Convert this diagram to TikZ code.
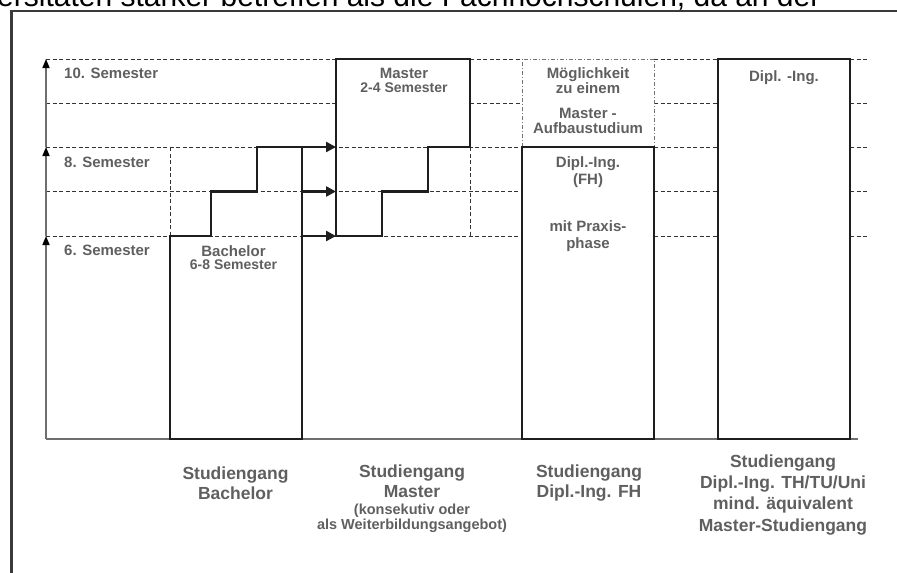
\documentclass[tikz,border=0pt]{standalone}
\usepackage{fontspec}
\setmainfont{Liberation Sans}
\usetikzlibrary{arrows.meta}
\definecolor{txt}{HTML}{5F5F5F}
\definecolor{ink}{HTML}{1E1E1E}
\definecolor{axisg}{HTML}{6E6E6E}
\definecolor{gridc}{HTML}{333333}
\definecolor{framec}{HTML}{3A3A3A}
\begin{document}
\begin{tikzpicture}[x=1pt,y=-1pt,
  box/.style={draw=ink, line width=2.4pt, line join=miter},
  gridline/.style={draw=gridc, line width=1pt, dash pattern=on 4pt off 2.5pt},
  dotbox/.style={draw=black!55, line width=1pt, dash pattern=on 4pt off 2pt on 1pt off 2pt},
  axisline/.style={draw=axisg, line width=1.5pt, -{Triangle[length=9pt,width=7pt,color=black]}},
  feed/.style={draw=ink, line width=2.4pt, -{Triangle[length=10pt,width=10pt]}},
  baseln/.style={draw=axisg, line width=2pt},
  framel/.style={draw=framec, line width=2.7pt},
  lbl/.style={text=txt, inner sep=0pt, align=center, font=\bfseries\fontsize{15}{15}\selectfont},
  sem/.style={lbl, anchor=west},
  big/.style={text=txt, inner sep=0pt, align=center, font=\bfseries\fontsize{17.5}{20}\selectfont}
]
\useasboundingbox (0,0) rectangle (897,573);

% clipped running text at the top
\begin{scope}
\clip (0,0) rectangle (897,573);
\node[anchor=base west, inner sep=0pt, text=black, font=\fontsize{30}{30}\selectfont] (head) at (-3,6.5) {ersitäten stärker betreffen als die Fachhochschulen, da an der};
\end{scope}

% frame
\draw[framel] (11.5,573) -- (11.5,11) -- (897,11);

% grid of semesters
\draw[gridline] (46,59) -- (336,59) (470,59) -- (522,59) (654,59) -- (718,59) (850,59) -- (868,59);
\draw[gridline] (46,103) -- (336,103) (470,103) -- (522,103) (654,103) -- (718,103) (850,103) -- (868,103);
\draw[gridline] (46,147) -- (522,147) (654,147) -- (718,147) (850,147) -- (868,147);
\draw[gridline] (46,191.5) -- (522,191.5) (654,191.5) -- (718,191.5) (850,191.5) -- (868,191.5);
\draw[gridline] (46,236) -- (522,236) (654,236) -- (718,236) (850,236) -- (868,236);
\draw[gridline] (170,147) -- (170,236) (470,147) -- (470,236);
\draw[dotbox] (522,147) -- (522,59) -- (654,59) -- (654,147);

% baseline and axis
\coordinate (a0) at (46,439);
\coordinate (a6) at (46,236);
\coordinate (a8) at (46,147);
\coordinate (a10) at (46,59);
\coordinate (bend) at (858,439);
\draw[baseln] (a0) -- (bend);
\draw[axisline] (a0) -- (a6);
\draw[axisline] (a6) -- (a8);
\draw[axisline] (a8) -- (a10);

% programme blocks
\draw[box] (170,439) -- (170,236) -- (211,236) -- (211,191.5) -- (257,191.5) -- (257,147) -- (302,147) -- (302,439) -- cycle;
\draw[box] (336,236) -- (336,59) -- (470,59) -- (470,147) -- (428,147) -- (428,191.5) -- (382,191.5) -- (382,236) -- cycle;
\draw[box] (522,147) rectangle (654,439);
\draw[box] (718,59) rectangle (850,439);

% transitions Bachelor -> Master
\coordinate (b8) at (302,147);
\coordinate (b7) at (302,191.5);
\coordinate (b6) at (302,236);
\coordinate (m8) at (336,147);
\coordinate (m7) at (336,191.5);
\coordinate (m6) at (336,236);
\draw[feed] (b8) -- (m8);
\draw[feed] (b7) -- (m7);
\draw[feed] (b6) -- (m6);

% semester labels
\node[sem] (s10) at (64,73) {10. Semester};
\node[sem] (s8) at (64,162) {8. Semester};
\node[sem] (s6) at (64,250) {6. Semester};

% block labels
\node[lbl, font=\bfseries\fontsize{15}{13.3}\selectfont] (bach) at (233.5,257.3) {Bachelor\\{\fontsize{14}{13.3}\selectfont 6-8 Semester}};
\node[lbl, font=\bfseries\fontsize{15}{14.4}\selectfont] (mast) at (404,80.5) {Master\\{\fontsize{14}{14.4}\selectfont 2-4 Semester}};
\node[lbl] (moeg) at (588,80.5) {Möglichkeit\\zu einem};
\node[lbl] (aufb) at (588,120.8) {Master -\\Aufbaustudium};
\node[lbl, font=\bfseries\fontsize{15}{17}\selectfont] (fh) at (588,172.5) {Dipl.-Ing.\\(FH)};
\node[lbl, font=\bfseries\fontsize{15}{16.5}\selectfont] (prax) at (588,236.3) {mit Praxis-\\phase};
\node[lbl] (dipl) at (784,78) {Dipl. -Ing.};

% bottom captions
\node[big] (cb) at (235.5,483) {Studiengang\\Bachelor};
\node[big] (cm) at (412,481.5) {Studiengang\\Master};
\node[lbl, font=\bfseries\fontsize{14.5}{13.5}\selectfont] (cm2) at (412,518.5) {(konsekutiv oder\\als Weiterbildungsangebot)};
\node[big] (cf) at (589,483) {Studiengang\\Dipl.-Ing. FH};
\node[big, font=\bfseries\fontsize{17.5}{21.3}\selectfont] (cd) at (783,494.6) {Studiengang\\Dipl.-Ing. TH/TU/Uni\\mind. äquivalent\\Master-Studiengang};
\end{tikzpicture}
\end{document}
